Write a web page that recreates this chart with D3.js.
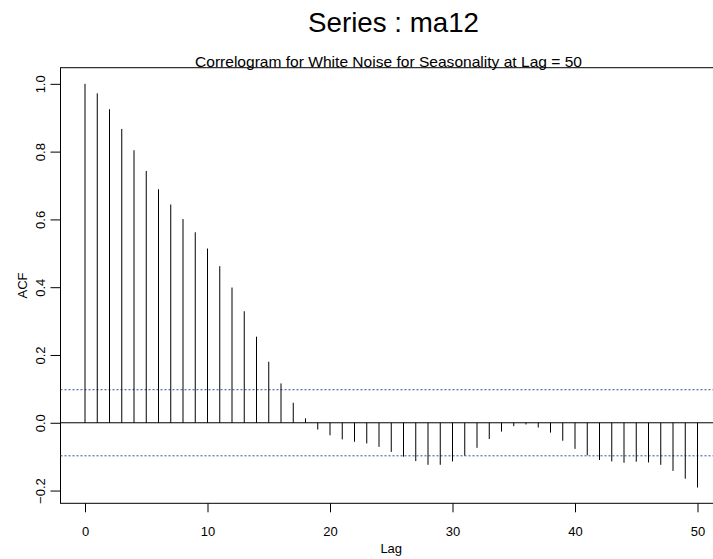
<!DOCTYPE html>
<html>
<head>
<meta charset="utf-8">
<script src="https://cdn.jsdelivr.net/npm/d3@7"></script>
<style>
  body { margin: 0; background: #fff; }
  svg { display: block; font-family: "Liberation Sans", Arial, Helvetica, sans-serif; }
</style>
</head>
<body>
<svg id="chart"></svg>
<script>
// acf values, lag 0..50
const lags = d3.range(0, 51);
const acfValues = [
  1.0, 0.972, 0.925, 0.867, 0.804, 0.743, 0.689, 0.644, 0.601, 0.562,
  0.514, 0.462, 0.399, 0.329, 0.254, 0.180, 0.116, 0.059, 0.013, -0.020,
  -0.037, -0.049, -0.056, -0.061, -0.071, -0.086, -0.100, -0.113, -0.124, -0.124,
  -0.114, -0.097, -0.074, -0.048, -0.026, -0.010, -0.005, -0.014, -0.029, -0.053,
  -0.077, -0.096, -0.110, -0.114, -0.118, -0.115, -0.117, -0.124, -0.142, -0.165,
  -0.191
];
const ciBound = 0.0975;
const xTicks = [0, 10, 20, 30, 40, 50];
const yTicks = [-0.2, 0.0, 0.2, 0.4, 0.6, 0.8, 1.0];

const width = 713, height = 559;
const plotLeft = 60.5, plotRight = 722, plotTop = 67.7, plotBottom = 503.3;

const svg = d3.select("#chart").attr("width", width).attr("height", height);

// R style: 4% padding on each side of the data range
const x = d3.scaleLinear().domain([-2, 52]).range([plotLeft, plotRight]);
const y = d3.scaleLinear().domain([-0.2376, 1.0476]).range([plotBottom, plotTop]);

// box
svg.append("rect")
    .attr("x", plotLeft).attr("y", plotTop)
    .attr("width", plotRight - plotLeft).attr("height", plotBottom - plotTop)
    .attr("fill", "none").attr("stroke", "#000").attr("stroke-width", 1);

// zero line
svg.append("line")
    .attr("x1", plotLeft).attr("x2", plotRight)
    .attr("y1", y(0)).attr("y2", y(0))
    .attr("stroke", "#000");

// confidence bands
svg.append("g")
  .selectAll("line")
  .data([ciBound, -ciBound])
  .join("line")
    .attr("x1", plotLeft).attr("x2", plotRight)
    .attr("y1", d => y(d)).attr("y2", d => y(d))
    .attr("stroke", "#2f5289")
    .attr("stroke-dasharray", "2,2");

// spikes
svg.append("g")
  .selectAll("line")
  .data(lags)
  .join("line")
    .attr("x1", d => x(d)).attr("x2", d => x(d))
    .attr("y1", y(0)).attr("y2", d => y(acfValues[d]))
    .attr("stroke", "#000").attr("stroke-width", 1);

// axes
const xAxis = svg.append("g")
    .attr("transform", `translate(0,${plotBottom})`)
    .call(d3.axisBottom(x).tickValues(xTicks).tickFormat(d3.format("d")).tickSize(9).tickSizeOuter(0));
xAxis.select(".domain").remove();
xAxis.selectAll("text")
    .attr("y", 33).attr("dy", 0)
    .attr("font-size", 13).attr("font-family", null).attr("fill", "#000");

const yAxis = svg.append("g")
    .attr("transform", `translate(${plotLeft},0)`)
    .call(d3.axisLeft(y).tickValues(yTicks).tickFormat(d3.format(".1f")).tickSize(10).tickSizeOuter(0));
yAxis.select(".domain").remove();
yAxis.selectAll("text")
    .attr("transform", "rotate(-90)")
    .attr("text-anchor", "middle")
    .attr("x", 0).attr("y", -16).attr("dy", 0)
    .attr("font-size", 13).attr("font-family", null).attr("fill", "#000");

// labels
svg.append("text")
    .attr("x", (plotLeft + plotRight) / 2).attr("y", 553)
    .attr("text-anchor", "middle").attr("font-size", 13)
    .text("Lag");

svg.append("text")
    .attr("transform", `translate(27,${(plotTop + plotBottom) / 2}) rotate(-90)`)
    .attr("text-anchor", "middle").attr("font-size", 13)
    .text("ACF");

svg.append("text")
    .attr("x", 393.5).attr("y", 32)
    .attr("text-anchor", "middle").attr("font-size", 27.5)
    .attr("textLength", 171).attr("lengthAdjust", "spacingAndGlyphs")
    .text("Series : ma12");

svg.append("text")
    .attr("x", 388.5).attr("y", 67)
    .attr("text-anchor", "middle").attr("font-size", 14.5)
    .attr("textLength", 387).attr("lengthAdjust", "spacingAndGlyphs")
    .text("Correlogram for White Noise for Seasonality at Lag = 50");
</script>
</body>
</html>
